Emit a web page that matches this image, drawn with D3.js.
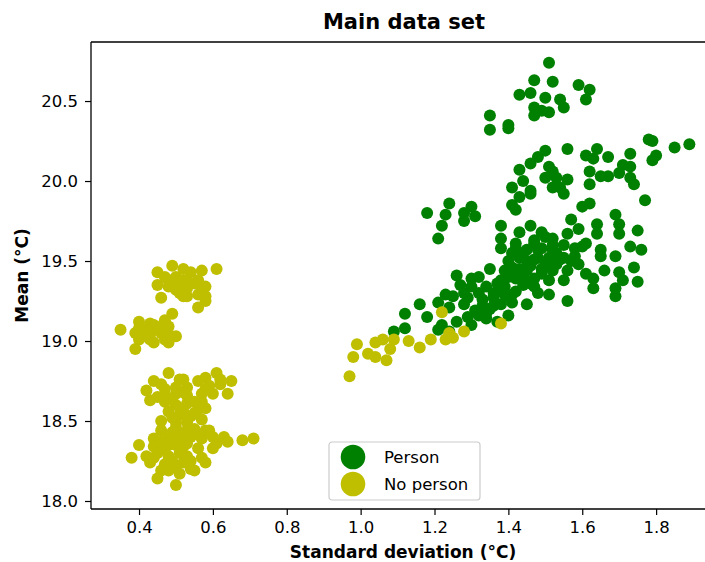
<!DOCTYPE html>
<html>
<head>
<meta charset="utf-8">
<script src="https://cdn.jsdelivr.net/npm/d3@7"></script>
<style>
  html, body { margin: 0; padding: 0; background: #fff; }
  svg { display: block; font-family: "DejaVu Sans", sans-serif; }
</style>
</head>
<body>
<svg id="chart" width="705" height="562"></svg>
<script>
// ---- Data ----
const chartTitle = "Main data set";
const xLabel = "Standard deviation (°C)";
const yLabel = "Mean (°C)";
const seriesNames = ["Person", "No person"];
const seriesColors = ["#008000", "#bfbf00"];
const xTicks = [0.4, 0.6, 0.8, 1.0, 1.2, 1.4, 1.6, 1.8];
const yTicks = [18.0, 18.5, 19.0, 19.5, 20.0, 20.5];

// [standard deviation, mean]
const personPoints = [
  [1.12,19.17],[1.16,19.23],[1.12,19.08],[1.09,19.06],[1.21,19.24],[1.18,19.15],[1.21,19.07],[1.26,19.12],
  [1.23,19.29],[1.25,19.28],[1.28,19.23],[1.29,19.15],[1.32,19.16],[1.34,19.14],[1.37,19.12],[1.40,19.16],
  [1.41,19.24],[1.32,19.30],[1.27,19.35],[1.30,19.34],[1.36,19.30],[1.39,19.29],[1.24,19.06],
  [1.51,20.74],[1.47,20.63],[1.52,20.62],[1.59,20.60],[1.62,20.57],[1.61,20.51],[1.43,20.54],[1.46,20.55],
  [1.50,20.52],[1.47,20.46],[1.54,20.51],[1.55,20.46],[1.51,20.43],[1.47,20.41],[1.35,20.41],[1.35,20.32],
  [1.40,20.33],[1.40,20.35],[1.49,20.44],
  [1.56,20.20],[1.50,20.19],[1.48,20.15],[1.46,20.11],[1.43,20.07],[1.64,20.20],[1.61,20.16],[1.63,20.14],
  [1.67,20.15],[1.73,20.17],[1.71,20.10],[1.73,20.09],[1.70,20.05],[1.78,20.26],[1.79,20.25],[1.80,20.16],
  [1.79,20.13],[1.85,20.21],[1.89,20.23],[1.62,20.06],[1.65,20.03],[1.67,20.03],[1.62,19.98],[1.73,20.02],
  [1.74,19.98],[1.51,20.09],[1.52,20.06],[1.50,20.02],[1.53,20.02],[1.56,20.01],[1.54,19.96],[1.44,20.00],
  [1.41,19.96],[1.46,19.94],[1.52,19.96],
  [1.18,19.80],[1.22,19.72],[1.21,19.64],[1.24,19.86],[1.23,19.79],[1.28,19.80],[1.30,19.84],[1.31,19.78],[1.28,19.75],
  [1.41,19.85],[1.42,19.82],[1.43,19.90],[1.46,19.92],[1.55,19.92],[1.60,19.84],[1.62,19.86],[1.77,19.88],[1.69,19.79],
  [1.38,19.72],[1.43,19.68],[1.46,19.72],[1.49,19.68],[1.57,19.76],[1.59,19.70],[1.64,19.73],[1.64,19.67],[1.70,19.73],
  [1.70,19.67],[1.75,19.69],
  [1.38,19.64],[1.42,19.61],[1.47,19.61],[1.52,19.64],[1.56,19.67],[1.61,19.61],
  [1.38,19.58],[1.41,19.55],[1.45,19.57],[1.49,19.58],[1.52,19.57],[1.55,19.60],[1.60,19.59],[1.65,19.57],[1.65,19.53],
  [1.69,19.53],[1.73,19.59],[1.76,19.57],
  [1.43,19.52],[1.47,19.51],[1.51,19.52],[1.54,19.51],[1.58,19.53],
  [1.39,19.44],[1.41,19.46],[1.45,19.44],[1.49,19.45],[1.52,19.44],[1.56,19.44],[1.59,19.48],[1.61,19.42],[1.66,19.44],
  [1.70,19.43],[1.74,19.46],[1.35,19.45],
  [1.26,19.41],[1.30,19.39],[1.32,19.40],[1.38,19.38],[1.42,19.39],[1.47,19.39],[1.51,19.38],[1.55,19.38],[1.63,19.39],
  [1.71,19.38],[1.75,19.37],[1.63,19.33],[1.69,19.33],[1.47,19.34],
  [1.34,19.34],[1.38,19.33],[1.42,19.31],[1.51,19.29],[1.56,19.25],[1.69,19.28],[1.28,19.30],[1.40,19.28],
  [1.31,19.19],[1.34,19.17],[1.38,19.23],[1.45,19.23],[1.24,19.21],[1.22,19.10],[1.30,19.10],
  [1.45,19.50],[1.48,19.52],[1.50,19.48],[1.53,19.55],[1.47,19.63],[1.44,19.40],[1.40,19.50],[1.42,19.58],
  [1.49,19.42],[1.46,19.36],[1.52,19.60],[1.55,19.52],[1.43,19.45],[1.50,19.65],[1.58,19.58],[1.39,19.34],
  [1.36,19.27],[1.33,19.22],[1.35,19.20],[1.41,19.29],
  [1.44,19.55],[1.46,19.47],[1.53,19.48],[1.48,19.57],[1.57,19.50],[1.40,19.40],[1.37,19.36],[1.44,19.35],
  [1.48,19.30],[1.36,19.22],[1.29,19.27],[1.33,19.26],[1.42,19.43]
];

const noPersonPoints = [
  [0.45,19.43],[0.49,19.47],[0.52,19.45],[0.54,19.43],[0.57,19.44],[0.61,19.45],[0.45,19.35],[0.48,19.38],
  [0.51,19.35],[0.53,19.37],[0.56,19.38],[0.58,19.34],[0.52,19.31],[0.53,19.28],[0.50,19.32],[0.46,19.27],
  [0.57,19.31],[0.58,19.28],[0.58,19.25],[0.56,19.21],[0.52,19.28],[0.48,19.34],
  [0.50,19.40],[0.53,19.33],[0.55,19.36],[0.51,19.30],[0.49,19.34],[0.56,19.29],[0.52,19.38],[0.47,19.40],
  [0.35,19.07],[0.49,19.17],[0.47,19.13],[0.40,19.12],[0.43,19.11],[0.39,19.05],[0.41,19.07],[0.45,19.08],
  [0.48,19.09],[0.50,19.03],[0.47,19.01],[0.43,19.01],[0.40,19.01],[0.39,18.95],[0.44,18.99],[0.42,19.03],
  [0.48,19.04],[0.48,18.99],[0.46,19.05],[0.44,19.10],[0.42,19.06],[0.46,19.09],[0.40,19.08],[0.47,19.06],[0.43,19.04],
  [0.48,18.80],[0.44,18.75],[0.42,18.69],[0.46,18.73],[0.51,18.76],[0.53,18.71],[0.56,18.75],[0.58,18.77],
  [0.61,18.80],[0.65,18.75],[0.64,18.67],[0.62,18.73],[0.60,18.67],[0.57,18.67],[0.53,18.66],[0.50,18.67],
  [0.47,18.66],[0.43,18.63],[0.47,18.62],[0.50,18.60],[0.53,18.61],[0.58,18.58],[0.56,18.57],[0.48,18.56],
  [0.51,18.54],[0.54,18.53],[0.46,18.50],[0.50,18.49],[0.53,18.49],[0.57,18.51],[0.46,18.44],[0.53,18.44],
  [0.58,18.44],[0.44,18.39],[0.48,18.39],[0.51,18.38],[0.54,18.40],[0.57,18.39],[0.60,18.40],[0.63,18.40],
  [0.59,18.44],[0.68,18.38],[0.71,18.39],[0.40,18.35],[0.44,18.34],[0.48,18.35],[0.52,18.34],[0.56,18.33],
  [0.60,18.33],[0.64,18.37],[0.38,18.27],[0.42,18.28],[0.45,18.30],[0.48,18.28],[0.53,18.28],[0.57,18.27],
  [0.58,18.24],[0.49,18.25],[0.47,18.23],[0.54,18.20],[0.46,18.19],[0.51,18.17],[0.45,18.14],[0.50,18.10],
  [0.55,18.19],[0.52,18.24],[0.43,18.24],[0.48,18.19],
  [0.50,18.71],[0.49,18.63],[0.52,18.56],[0.50,18.46],[0.51,18.30],[0.50,18.40],[0.53,18.36],[0.55,18.45],
  [0.47,18.33],[0.57,18.62],[0.52,18.76],[0.59,18.72],
  [0.55,18.62],[0.52,18.68],[0.55,18.55],[0.49,18.52],[0.52,18.42],[0.56,18.42],[0.49,18.43],[0.50,18.35],
  [0.46,18.37],[0.54,18.25],[0.50,18.21],[0.44,18.27],[0.61,18.36],[0.47,18.70],[0.45,18.65],[0.58,18.70],
  [0.62,18.76],
  [0.97,18.78],[0.98,18.90],[0.99,18.98],[1.02,18.92],[1.04,18.90],[1.04,18.99],[1.07,18.88],[1.06,19.01],
  [1.08,18.95],[1.09,19.01],[1.13,19.00],[1.16,18.96],[1.19,19.01],[1.22,19.18],[1.23,19.01],[1.24,19.05],
  [1.25,19.02],[1.28,19.06],[1.38,19.11]
];

// ---- Layout ----
const plot = { left: 91, right: 713, top: 42, bottom: 509 };
const xDomain = [0.27, 1.954];
const yDomain = [17.95, 20.869];
const FONT = '"DejaVu Sans", sans-serif';

const svg = d3.select("#chart");
const x = d3.scaleLinear().domain(xDomain).range([plot.left, plot.right]);
const y = d3.scaleLinear().domain(yDomain).range([plot.bottom, plot.top]);

svg.append("defs").append("clipPath").attr("id", "clip")
  .append("rect").attr("x", plot.left).attr("y", plot.top)
  .attr("width", plot.right - plot.left).attr("height", plot.bottom - plot.top);

const marks = svg.append("g").attr("clip-path", "url(#clip)");
const R = 6;
marks.selectAll("circle.person").data(personPoints).join("circle")
  .attr("class", "person")
  .attr("cx", d => x(d[0])).attr("cy", d => y(d[1])).attr("r", R)
  .attr("fill", seriesColors[0]);
marks.selectAll("circle.noperson").data(noPersonPoints).join("circle")
  .attr("class", "noperson")
  .attr("cx", d => x(d[0])).attr("cy", d => y(d[1])).attr("r", R)
  .attr("fill", seriesColors[1]);

// axes
const xAxis = d3.axisBottom(x).tickValues(xTicks).tickFormat(d3.format(".1f")).tickSize(6).tickPadding(6);
const yAxis = d3.axisLeft(y).tickValues(yTicks).tickFormat(d3.format(".1f")).tickSize(6).tickPadding(7);

const gx = svg.append("g").attr("transform", `translate(0,${plot.bottom})`).call(xAxis);
const gy = svg.append("g").attr("transform", `translate(${plot.left},0)`).call(yAxis);
[gx, gy].forEach(g => {
  g.select(".domain").remove();
  g.selectAll(".tick line").attr("stroke", "#000").attr("stroke-width", 1.2);
  g.selectAll(".tick text").attr("fill", "#000").style("font-family", FONT).style("font-size", "16.5px");
});

// spines
const spine = svg.append("g").attr("stroke", "#000").attr("stroke-width", 1.3).attr("fill", "none");
spine.append("line").attr("x1", plot.left).attr("x2", plot.left).attr("y1", plot.top).attr("y2", plot.bottom);
spine.append("line").attr("x1", plot.left).attr("x2", plot.right).attr("y1", plot.bottom).attr("y2", plot.bottom);
spine.append("line").attr("x1", plot.left).attr("x2", plot.right).attr("y1", plot.top).attr("y2", plot.top);
spine.append("line").attr("x1", plot.right).attr("x2", plot.right).attr("y1", plot.top).attr("y2", plot.bottom);

// title & labels
svg.append("text").attr("x", 404).attr("y", 29).attr("text-anchor", "middle")
  .style("font-family", FONT).style("font-size", "21px").style("font-weight", "bold")
  .text(chartTitle);
svg.append("text").attr("x", 403).attr("y", 558).attr("text-anchor", "middle")
  .style("font-family", FONT).style("font-size", "17px").style("font-weight", "bold")
  .text(xLabel);
svg.append("text").attr("transform", `translate(28,${(plot.top + plot.bottom) / 2}) rotate(-90)`)
  .attr("text-anchor", "middle")
  .style("font-family", FONT).style("font-size", "17px").style("font-weight", "bold")
  .text(yLabel);

// legend
const lg = svg.append("g").attr("transform", "translate(329,442)");
lg.append("rect").attr("x", 0).attr("y", 0).attr("width", 151).attr("height", 58)
  .attr("rx", 3).attr("fill", "#fff").attr("fill-opacity", 0.8)
  .attr("stroke", "#cccccc").attr("stroke-width", 1.2);
seriesNames.forEach((name, i) => {
  const cy = 15 + i * 27;
  lg.append("circle").attr("cx", 24).attr("cy", cy).attr("r", 12.3).attr("fill", seriesColors[i]);
  lg.append("text").attr("x", 55).attr("y", cy).attr("dy", "0.36em")
    .style("font-family", FONT).style("font-size", "16.5px").attr("fill", "#000")
    .text(name);
});
</script>
</body>
</html>
